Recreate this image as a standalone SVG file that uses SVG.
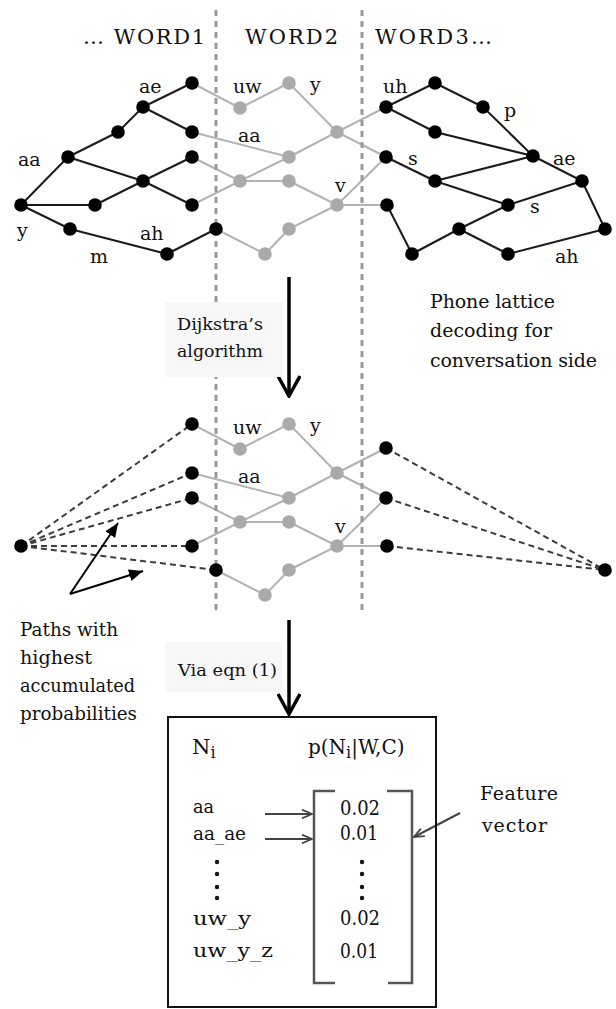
<svg xmlns="http://www.w3.org/2000/svg" width="616" height="1009" viewBox="0 0 616 1009" font-family="'DejaVu Serif', 'Liberation Serif', serif">
<style>
  text { font-family: "DejaVu Serif", "Liberation Serif", serif; fill: #111; }
  .hd { font-size: 21px; }
  .lb { font-size: 19px; }
  .cap { font-size: 17px; }
  .bx { font-size: 19px; }
  .num { font-size: 20px; }
  .bk line { stroke: #1a1a1a; stroke-width: 2; }
  .gy line { stroke: #b3b3b3; stroke-width: 2; }
  .dsh line { stroke: #3c3c3c; stroke-width: 2; stroke-dasharray: 6 4; }
  .sep { stroke: #999; stroke-width: 3; stroke-dasharray: 6 5; }
  .nb { fill: #000; }
  .ng { fill: #aaaaaa; }
  .plate { fill: #f7f7f7; }
  .big { stroke: #000; stroke-width: 3.5; fill: none; }
  .thin { stroke: #444; stroke-width: 2; fill: none; }
  .brk { stroke: #555; stroke-width: 2.5; fill: none; }
</style>
<defs>
  <marker id="chev" viewBox="0 0 24 24" refX="22" refY="12" markerWidth="24" markerHeight="24" markerUnits="userSpaceOnUse" orient="auto">
    <polyline points="2,1 22,12 2,23" fill="none" stroke="#000" stroke-width="3.5"/>
  </marker>
  <marker id="chevS" viewBox="0 0 12 10" refX="11" refY="5" markerWidth="12" markerHeight="10" markerUnits="userSpaceOnUse" orient="auto">
    <polyline points="1,0.7 11,5 1,9.3" fill="none" stroke="#444" stroke-width="1.8"/>
  </marker>
  <marker id="tri" viewBox="0 0 14 12" refX="14" refY="6" markerWidth="14" markerHeight="12" markerUnits="userSpaceOnUse" orient="auto">
    <path d="M0,0 L14,6 L0,12 Z" fill="#000"/>
  </marker>
</defs>

<!-- word headings -->
<g id="headings" class="hd">
  <text x="83" y="44" textLength="122" lengthAdjust="spacing">… WORD1</text>
  <text x="245" y="44" textLength="93" lengthAdjust="spacing">WORD2</text>
  <text x="375" y="44" textLength="117" lengthAdjust="spacing">WORD3…</text>
</g>

<!-- connectors -->
<g id="connectors">
  <!-- upper lattice, word 1 -->
  <g class="bk">
    <line x1="21" y1="205" x2="68" y2="157"/>
    <line x1="21" y1="205" x2="95" y2="205"/>
    <line x1="21" y1="205" x2="70" y2="229"/>
    <line x1="68" y1="157" x2="118" y2="132"/>
    <line x1="68" y1="157" x2="143" y2="181"/>
    <line x1="118" y1="132" x2="143" y2="107"/>
    <line x1="143" y1="107" x2="192" y2="83"/>
    <line x1="143" y1="107" x2="192" y2="132"/>
    <line x1="95" y1="205" x2="143" y2="181"/>
    <line x1="143" y1="181" x2="192" y2="157"/>
    <line x1="143" y1="181" x2="192" y2="205"/>
    <line x1="70" y1="229" x2="167" y2="254"/>
    <line x1="167" y1="254" x2="216" y2="229"/>
  </g>
  <!-- upper lattice, word 2 -->
  <g class="gy">
    <line x1="192" y1="83" x2="240" y2="108"/>
    <line x1="240" y1="108" x2="289" y2="83"/>
    <line x1="289" y1="83" x2="337" y2="132"/>
    <line x1="192" y1="132" x2="289" y2="157"/>
    <line x1="289" y1="157" x2="337" y2="132"/>
    <line x1="192" y1="157" x2="240" y2="181"/>
    <line x1="192" y1="205" x2="240" y2="181"/>
    <line x1="240" y1="181" x2="289" y2="157"/>
    <line x1="240" y1="181" x2="289" y2="181"/>
    <line x1="289" y1="181" x2="337" y2="205"/>
    <line x1="216" y1="229" x2="265" y2="254"/>
    <line x1="265" y1="254" x2="289" y2="229"/>
    <line x1="289" y1="229" x2="337" y2="205"/>
    <line x1="337" y1="132" x2="386" y2="107"/>
    <line x1="337" y1="132" x2="386" y2="157"/>
    <line x1="337" y1="205" x2="386" y2="157"/>
    <line x1="337" y1="205" x2="387" y2="205"/>
  </g>
  <!-- upper lattice, word 3 -->
  <g class="bk">
    <line x1="386" y1="107" x2="435" y2="83"/>
    <line x1="435" y1="83" x2="483" y2="107"/>
    <line x1="483" y1="107" x2="533" y2="156"/>
    <line x1="386" y1="107" x2="435" y2="132"/>
    <line x1="435" y1="132" x2="533" y2="156"/>
    <line x1="386" y1="157" x2="435" y2="181"/>
    <line x1="435" y1="181" x2="533" y2="156"/>
    <line x1="435" y1="181" x2="508" y2="205"/>
    <line x1="533" y1="156" x2="582" y2="181"/>
    <line x1="582" y1="181" x2="508" y2="205"/>
    <line x1="582" y1="181" x2="605" y2="229"/>
    <line x1="605" y1="229" x2="508" y2="254"/>
    <line x1="508" y1="254" x2="459" y2="229"/>
    <line x1="459" y1="229" x2="508" y2="205"/>
    <line x1="459" y1="229" x2="412" y2="254"/>
    <line x1="412" y1="254" x2="387" y2="205"/>
  </g>

  <!-- lower lattice, word 2 -->
  <g class="gy">
    <line x1="192" y1="424" x2="240" y2="449"/>
    <line x1="240" y1="449" x2="289" y2="424"/>
    <line x1="289" y1="424" x2="337" y2="473"/>
    <line x1="192" y1="473" x2="289" y2="498"/>
    <line x1="289" y1="498" x2="337" y2="473"/>
    <line x1="192" y1="498" x2="240" y2="522"/>
    <line x1="192" y1="546" x2="240" y2="522"/>
    <line x1="240" y1="522" x2="289" y2="498"/>
    <line x1="240" y1="522" x2="289" y2="522"/>
    <line x1="289" y1="522" x2="337" y2="546"/>
    <line x1="216" y1="570" x2="265" y2="595"/>
    <line x1="265" y1="595" x2="289" y2="570"/>
    <line x1="289" y1="570" x2="337" y2="546"/>
    <line x1="337" y1="473" x2="386" y2="448"/>
    <line x1="337" y1="473" x2="386" y2="498"/>
    <line x1="337" y1="546" x2="386" y2="498"/>
    <line x1="337" y1="546" x2="387" y2="546"/>
  </g>
  <!-- best paths to the word boundaries -->
  <g class="dsh">
    <line x1="21" y1="546" x2="192" y2="424"/>
    <line x1="21" y1="546" x2="192" y2="473"/>
    <line x1="21" y1="546" x2="192" y2="498"/>
    <line x1="21" y1="546" x2="192" y2="546"/>
    <line x1="21" y1="546" x2="216" y2="570"/>
    <line x1="386" y1="448" x2="605" y2="570"/>
    <line x1="386" y1="498" x2="605" y2="570"/>
    <line x1="387" y1="546" x2="605" y2="570"/>
  </g>

  <!-- process arrows -->
  <line class="big" x1="289" y1="277" x2="289" y2="396" marker-end="url(#chev)"/>
  <line class="big" x1="289" y1="620" x2="289" y2="714" marker-end="url(#chev)"/>

  <!-- pointers to the best paths -->
  <g stroke="#000" stroke-width="2">
    <line x1="70" y1="594" x2="118" y2="523" marker-end="url(#tri)"/>
    <line x1="70" y1="594" x2="143" y2="571" marker-end="url(#tri)"/>
  </g>

  <!-- pointers into the vector -->
  <line class="thin" x1="265" y1="814" x2="312" y2="814" marker-end="url(#chevS)"/>
  <line class="thin" x1="265" y1="839" x2="312" y2="839" marker-end="url(#chevS)"/>
  <line class="thin" x1="460" y1="813" x2="414" y2="837" marker-end="url(#chevS)"/>
</g>

<!-- word boundaries -->
<g id="boundaries">
  <line class="sep" x1="216" y1="10" x2="216" y2="613"/>
  <line class="sep" x1="362" y1="10" x2="362" y2="613"/>
</g>

<!-- upper lattice nodes -->
<g id="n_w1_a"><circle class="nb" cx="192" cy="83" r="6.8"/></g>
<g id="n_w1_b"><circle class="nb" cx="143" cy="107" r="6.8"/></g>
<g id="n_w1_c"><circle class="nb" cx="118" cy="132" r="6.8"/></g>
<g id="n_w1_d"><circle class="nb" cx="192" cy="132" r="6.8"/></g>
<g id="n_w1_e"><circle class="nb" cx="68" cy="157" r="6.8"/></g>
<g id="n_w1_f"><circle class="nb" cx="192" cy="157" r="6.8"/></g>
<g id="n_w1_g"><circle class="nb" cx="143" cy="181" r="6.8"/></g>
<g id="n_w1_h"><circle class="nb" cx="21" cy="205" r="6.8"/></g>
<g id="n_w1_i"><circle class="nb" cx="95" cy="205" r="6.8"/></g>
<g id="n_w1_j"><circle class="nb" cx="192" cy="205" r="6.8"/></g>
<g id="n_w1_k"><circle class="nb" cx="70" cy="229" r="6.8"/></g>
<g id="n_w1_l"><circle class="nb" cx="216" cy="229" r="6.8"/></g>
<g id="n_w1_m"><circle class="nb" cx="167" cy="254" r="6.8"/></g>

<g id="n_w2_1"><circle class="ng" cx="240" cy="108" r="6.8"/></g>
<g id="n_w2_2"><circle class="ng" cx="289" cy="83" r="6.8"/></g>
<g id="n_w2_3"><circle class="ng" cx="337" cy="132" r="6.8"/></g>
<g id="n_w2_4"><circle class="ng" cx="289" cy="157" r="6.8"/></g>
<g id="n_w2_5"><circle class="ng" cx="240" cy="181" r="6.8"/></g>
<g id="n_w2_6"><circle class="ng" cx="289" cy="181" r="6.8"/></g>
<g id="n_w2_7"><circle class="ng" cx="337" cy="205" r="6.8"/></g>
<g id="n_w2_8"><circle class="ng" cx="289" cy="229" r="6.8"/></g>
<g id="n_w2_9"><circle class="ng" cx="265" cy="254" r="6.8"/></g>

<g id="n_w3_1"><circle class="nb" cx="386" cy="107" r="6.8"/></g>
<g id="n_w3_2"><circle class="nb" cx="435" cy="83" r="6.8"/></g>
<g id="n_w3_3"><circle class="nb" cx="483" cy="107" r="6.8"/></g>
<g id="n_w3_4"><circle class="nb" cx="435" cy="132" r="6.8"/></g>
<g id="n_w3_5"><circle class="nb" cx="386" cy="157" r="6.8"/></g>
<g id="n_w3_6"><circle class="nb" cx="533" cy="156" r="6.8"/></g>
<g id="n_w3_7"><circle class="nb" cx="435" cy="181" r="6.8"/></g>
<g id="n_w3_8"><circle class="nb" cx="582" cy="181" r="6.8"/></g>
<g id="n_w3_9"><circle class="nb" cx="387" cy="205" r="6.8"/></g>
<g id="n_w3_10"><circle class="nb" cx="508" cy="205" r="6.8"/></g>
<g id="n_w3_11"><circle class="nb" cx="459" cy="229" r="6.8"/></g>
<g id="n_w3_12"><circle class="nb" cx="605" cy="229" r="6.8"/></g>
<g id="n_w3_13"><circle class="nb" cx="412" cy="254" r="6.8"/></g>
<g id="n_w3_14"><circle class="nb" cx="508" cy="254" r="6.8"/></g>

<!-- lower lattice nodes -->
<g id="m_start"><circle class="nb" cx="21" cy="546" r="6.8"/></g>
<g id="m_w1_a"><circle class="nb" cx="192" cy="424" r="6.8"/></g>
<g id="m_w1_d"><circle class="nb" cx="192" cy="473" r="6.8"/></g>
<g id="m_w1_f"><circle class="nb" cx="192" cy="498" r="6.8"/></g>
<g id="m_w1_j"><circle class="nb" cx="192" cy="546" r="6.8"/></g>
<g id="m_w1_l"><circle class="nb" cx="216" cy="570" r="6.8"/></g>
<g id="m_w2_1"><circle class="ng" cx="240" cy="449" r="6.8"/></g>
<g id="m_w2_2"><circle class="ng" cx="289" cy="424" r="6.8"/></g>
<g id="m_w2_3"><circle class="ng" cx="337" cy="473" r="6.8"/></g>
<g id="m_w2_4"><circle class="ng" cx="289" cy="498" r="6.8"/></g>
<g id="m_w2_5"><circle class="ng" cx="240" cy="522" r="6.8"/></g>
<g id="m_w2_6"><circle class="ng" cx="289" cy="522" r="6.8"/></g>
<g id="m_w2_7"><circle class="ng" cx="337" cy="546" r="6.8"/></g>
<g id="m_w2_8"><circle class="ng" cx="289" cy="570" r="6.8"/></g>
<g id="m_w2_9"><circle class="ng" cx="265" cy="595" r="6.8"/></g>
<g id="m_w3_1"><circle class="nb" cx="386" cy="448" r="6.8"/></g>
<g id="m_w3_5"><circle class="nb" cx="386" cy="498" r="6.8"/></g>
<g id="m_w3_9"><circle class="nb" cx="387" cy="546" r="6.8"/></g>
<g id="m_end"><circle class="nb" cx="605" cy="570" r="6.8"/></g>

<!-- phone labels -->
<g id="phones" class="lb">
  <text x="139" y="93">ae</text>
  <text x="233" y="93">uw</text>
  <text x="310" y="91">y</text>
  <text x="383" y="93">uh</text>
  <text x="504" y="117">p</text>
  <text x="18" y="166">aa</text>
  <text x="238" y="142">aa</text>
  <text x="408" y="165">s</text>
  <text x="553" y="165">ae</text>
  <text x="335" y="192">v</text>
  <text x="530" y="213">s</text>
  <text x="17" y="237">y</text>
  <text x="140" y="240">ah</text>
  <text x="90" y="263">m</text>
  <text x="555" y="263">ah</text>

  <text x="233" y="434">uw</text>
  <text x="310" y="432">y</text>
  <text x="238" y="483">aa</text>
  <text x="335" y="533">v</text>
</g>

<!-- captions -->
<g id="cap_lattice" class="lb">
  <text x="430" y="308" textLength="125" lengthAdjust="spacing">Phone lattice</text>
  <text x="430" y="337" textLength="122" lengthAdjust="spacing">decoding for</text>
  <text x="430" y="367" textLength="167" lengthAdjust="spacing">conversation side</text>
</g>
<g id="cap_dijkstra" class="cap">
  <rect class="plate" x="165" y="302" width="118" height="75"/>
  <text x="177" y="330" textLength="86" lengthAdjust="spacingAndGlyphs">Dijkstra’s</text>
  <text x="177" y="357" textLength="86" lengthAdjust="spacingAndGlyphs">algorithm</text>
</g>
<g id="cap_paths" class="lb">
  <text x="20" y="636" textLength="98" lengthAdjust="spacingAndGlyphs">Paths with</text>
  <text x="20" y="664" textLength="72" lengthAdjust="spacingAndGlyphs">highest</text>
  <text x="20" y="692" textLength="115" lengthAdjust="spacingAndGlyphs">accumulated</text>
  <text x="20" y="720" textLength="117" lengthAdjust="spacingAndGlyphs">probabilities</text>
</g>
<g id="cap_eqn" class="cap">
  <rect class="plate" x="165" y="642" width="117" height="50"/>
  <text x="178" y="676" textLength="99" lengthAdjust="spacingAndGlyphs">Via eqn (1)</text>
</g>

<!-- feature vector box -->
<g id="vector_box">
  <rect x="168" y="717" width="268" height="290" fill="none" stroke="#111" stroke-width="2"/>
  <text x="192" y="754" font-size="21">N<tspan dy="4" font-size="16">i</tspan></text>
  <text x="308" y="754" font-size="20">p(N<tspan dy="4" font-size="16">i</tspan><tspan dy="-4">|W,C)</tspan></text>

  <text class="bx" x="193" y="813" textLength="21" lengthAdjust="spacingAndGlyphs">aa</text>
  <text class="bx" x="193" y="840" textLength="53" lengthAdjust="spacingAndGlyphs">aa_ae</text>
  <text class="bx" x="193" y="925" textLength="58" lengthAdjust="spacingAndGlyphs">uw_y</text>
  <text class="bx" x="193" y="957" textLength="80" lengthAdjust="spacingAndGlyphs">uw_y_z</text>

  <g fill="#111">
    <circle cx="217" cy="862" r="2.2"/><circle cx="217" cy="874" r="2.2"/>
    <circle cx="217" cy="887" r="2.2"/><circle cx="217" cy="898" r="2.2"/>
    <circle cx="362" cy="862" r="2.2"/><circle cx="362" cy="874" r="2.2"/>
    <circle cx="362" cy="887" r="2.2"/><circle cx="362" cy="898" r="2.2"/>
  </g>

  <polyline class="brk" points="335,791 314,791 314,983 335,983"/>
  <polyline class="brk" points="387,791 412,791 412,983 388,983"/>

  <text class="num" x="340" y="815" textLength="40" lengthAdjust="spacingAndGlyphs">0.02</text>
  <text class="num" x="340" y="840" textLength="38" lengthAdjust="spacingAndGlyphs">0.01</text>
  <text class="num" x="340" y="925" textLength="40" lengthAdjust="spacingAndGlyphs">0.02</text>
  <text class="num" x="340" y="958" textLength="38" lengthAdjust="spacingAndGlyphs">0.01</text>
</g>

<g id="cap_feature" class="lb">
  <text x="480" y="800" textLength="78" lengthAdjust="spacing">Feature</text>
  <text x="482" y="832" textLength="65" lengthAdjust="spacing">vector</text>
</g>
</svg>
